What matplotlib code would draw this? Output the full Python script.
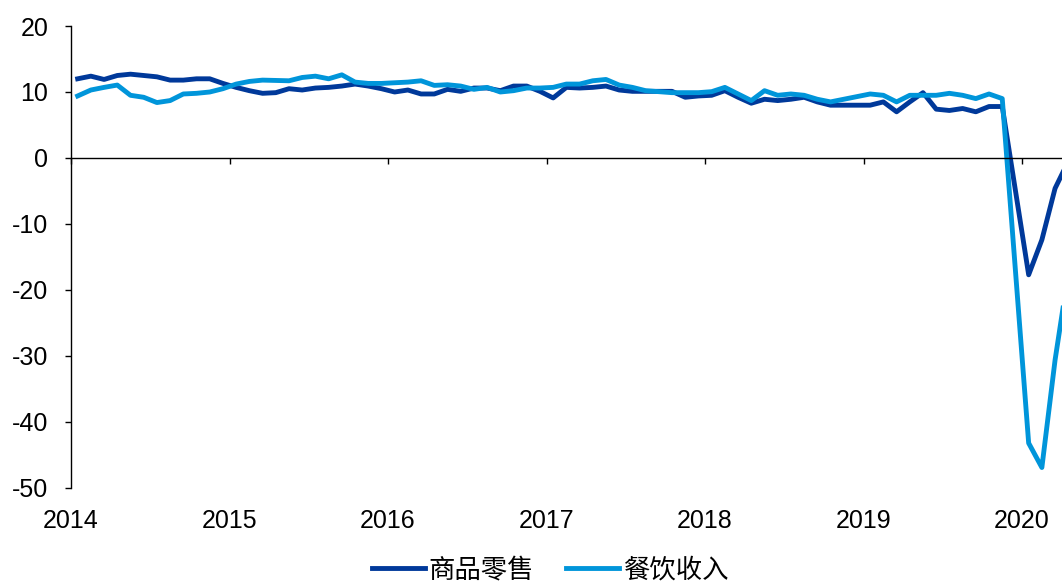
"""Goods retail vs catering revenue, YoY %, 2014-2020."""

import matplotlib
matplotlib.use("Agg")
import matplotlib.pyplot as plt
import numpy as np
import pandas as pd

plt.rcParams["font.family"] = ["Liberation Sans", "Noto Sans CJK SC", "DejaVu Sans"]
plt.rcParams["axes.unicode_minus"] = False

# ── data ──────────────────────────────────────────────────────────────
MONTHS = [str(p) for p in pd.period_range("2014-01", "2019-11", freq="M")] + \
         ["2020-01", "2020-02", "2020-03", "2020-04"]

GOODS = [
    12.0, 12.4, 11.9, 12.5, 12.7, 12.5, 12.3, 11.8, 11.8, 12.0, 12.0, 11.3,   # 2014
    10.7, 10.2, 9.8, 9.9, 10.5, 10.3, 10.6, 10.7, 10.9, 11.2, 10.9, 10.5,     # 2015
    10.0, 10.3, 9.7, 9.7, 10.4, 10.1, 10.6, 10.6, 10.2, 10.9, 10.9, 10.1,     # 2016
    9.1, 10.7, 10.6, 10.7, 10.9, 10.3, 10.1, 10.1, 10.1, 10.1, 9.2, 9.4,      # 2017
    9.5, 10.2, 9.2, 8.3, 8.9, 8.7, 8.9, 9.2, 8.5, 8.0, 8.0, 8.0,              # 2018
    8.0, 8.5, 7.0, 8.5, 9.9, 7.4, 7.2, 7.5, 7.0, 7.8, 7.8,                    # 2019
    -17.7, -12.4, -4.6, -0.5,                                                 # 2020
]

CATERING = [
    9.4, 10.3, 10.7, 11.05, 9.5, 9.2, 8.4, 8.7, 9.7, 9.8, 10.0, 10.5,
    11.2, 11.6, 11.8, 11.75, 11.7, 12.2, 12.4, 12.0, 12.6, 11.5, 11.3, 11.3,
    11.4, 11.5, 11.7, 11.0, 11.1, 10.9, 10.4, 10.7, 10.0, 10.2, 10.6, 10.6,
    10.7, 11.2, 11.2, 11.7, 11.9, 11.05, 10.7, 10.2, 10.05, 9.9, 9.9, 9.9,
    10.05, 10.7, 9.7, 8.7, 10.2, 9.5, 9.7, 9.5, 8.9, 8.5, 8.9, 9.3,
    9.7, 9.5, 8.5, 9.5, 9.5, 9.5, 9.8, 9.5, 9.0, 9.7, 9.0,
    -43.2, -46.9, -30.6, -17.5,
]

YEARS = [2014, 2015, 2016, 2017, 2018, 2019, 2020]
LABELS = ["商品零售", "餐饮收入"]

DARK = "#00399A"
LIGHT = "#0095DA"


def month_pos(m):
    """Centre of the month slot, in fractional years."""
    y, mo = m.split("-")
    return int(y) + (int(mo) - 0.5) / 12


def main():
    x = np.array([month_pos(m) for m in MONTHS])

    fig = plt.figure(figsize=(10.62, 5.83), dpi=100)
    ax = fig.add_axes([0.0669, 0.163, 0.9331, 0.7924])

    l1, = ax.plot(x, GOODS, color=DARK, lw=3.5, solid_joinstyle="round")
    l2, = ax.plot(x, CATERING, color=LIGHT, lw=3.5, solid_joinstyle="round")

    ax.set_ylim(-50, 20)
    ax.set_xlim(2014, 2020.252)
    ax.set_yticks(np.arange(-50, 21, 10))
    ax.tick_params(axis="y", direction="out", length=4.5, width=1,
                   pad=12, labelsize=18)

    for s in ("top", "right"):
        ax.spines[s].set_visible(False)
    ax.spines["left"].set_linewidth(1)
    ax.spines["bottom"].set_position(("data", 0))
    ax.spines["bottom"].set_linewidth(1)

    ax.set_xticks(YEARS)
    ax.tick_params(axis="x", direction="out", length=4.5, width=1,
                   labelbottom=False)

    # year labels sit under the plot, not on the zero line
    sec = ax.secondary_xaxis("bottom")
    sec.set_xticks(YEARS)
    sec.set_xticklabels([str(y) for y in YEARS])
    sec.spines["bottom"].set_visible(False)
    sec.tick_params(length=0, pad=15, labelsize=18)

    fig.legend([l1, l2], LABELS, loc="center", bbox_to_anchor=(0.518, 0.022),
               ncol=2, frameon=False, handlelength=2.0, handletextpad=0.15,
               columnspacing=1.2,
               prop={"family": ["Noto Sans CJK SC", "DejaVu Sans"], "size": 19})

    fig.savefig("out.png", dpi=100)
    plt.close(fig)


if __name__ == "__main__":
    main()
